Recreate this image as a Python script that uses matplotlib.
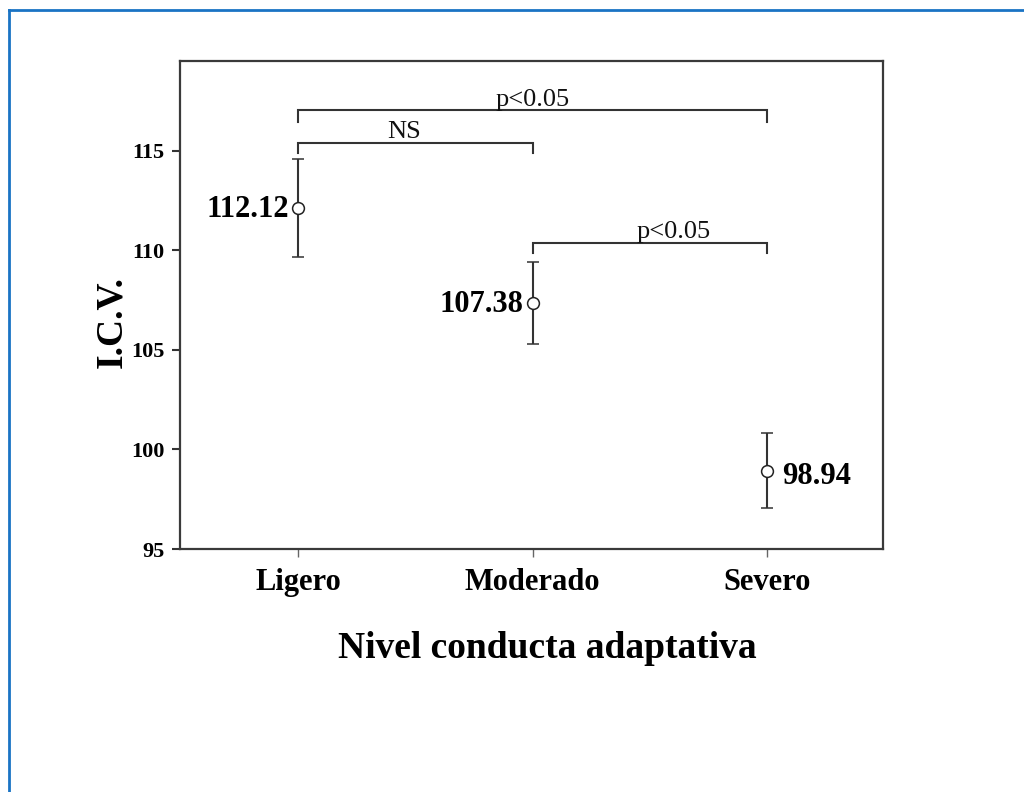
import matplotlib
matplotlib.use("Agg")
import matplotlib.pyplot as plt
from matplotlib.lines import Line2D

# Data
categories = ["Ligero", "Moderado", "Severo"]
means = [112.12, 107.38, 98.94]
err_low = [2.45, 2.08, 1.88]
err_high = [2.50, 2.04, 1.90]
value_labels = ["112.12", "107.38", "98.94"]
yticks = [95, 100, 105, 110, 115]
# brackets: (from index, to index, line level, drop, label, label x)
brackets = [
    (0, 2, 117.06, 0.6, "p<0.05", 1.0),
    (0, 1, 115.42, 0.52, "NS", 0.45),
    (1, 2, 110.40, 0.53, "p<0.05", 1.6),
]

plt.rcParams['font.family'] = ['Liberation Serif', 'DejaVu Serif']

fig = plt.figure(figsize=(10.24, 7.92), dpi=100)
ax = fig.add_axes([180/1024, 1-549/792, (883-180)/1024, (549-61)/792])

x = list(range(len(categories)))
ax.errorbar(x, means, yerr=[err_low, err_high], fmt='o', mfc='white', mec='#222222',
            ms=8.5, mew=1.1, ecolor='#333333', elinewidth=1.5, capsize=4.5, capthick=1.5,
            zorder=3)

offsets = [(-7, -1), (-7, -1), (11, -4)]
has = ['right', 'right', 'left']
for xi, m, lab, off, ha in zip(x, means, value_labels, offsets, has):
    ax.annotate(lab, (xi, m), xytext=off, textcoords='offset points', ha=ha, va='center',
                fontsize=22, fontweight='bold', color='black')

for i0, i1, lvl, drop, lab, lx in brackets:
    ax.plot([x[i0], x[i0], x[i1], x[i1]], [lvl - drop, lvl, lvl, lvl - drop],
            color='#333333', lw=1.5, solid_joinstyle='miter', clip_on=False)
    ax.text(lx, lvl + 0.22, lab, ha='center', va='baseline', fontsize=19, color='#111111')

ax.set_xlim(-0.505, 2.495)
ax.set_ylim(95, 119.52)
ax.set_xticks(x)
ax.set_xticklabels(categories, fontsize=22, fontweight='bold')
ax.set_yticks(yticks)
ax.set_yticklabels([str(t) for t in yticks], fontsize=16, fontweight='bold')
ax.tick_params(axis='y', direction='out', length=6, width=1.5, color='#333333', pad=5)
ax.tick_params(axis='x', direction='out', length=6, width=1, color='#666666', pad=8)
for s in ax.spines.values():
    s.set_linewidth(1.6)
    s.set_color('#3a3a3a')

fig.text(547/1024, 1-648/792, "Nivel conducta adaptativa", ha='center', va='center',
         fontsize=27, fontweight='bold')
fig.text(112/1024, 1-322/792, "I.C.V.", ha='center', va='center', rotation=90,
         fontsize=27, fontweight='bold')

# blue frame
blue = '#1a73c4'
fig.add_artist(Line2D([8.5/1024, 8.5/1024], [0, 1-9.5/792], transform=fig.transFigure,
                      color=blue, lw=2))
fig.add_artist(Line2D([8.5/1024, 1], [1-9.5/792, 1-9.5/792], transform=fig.transFigure,
                      color=blue, lw=2))

fig.savefig("out.png", dpi=100)
